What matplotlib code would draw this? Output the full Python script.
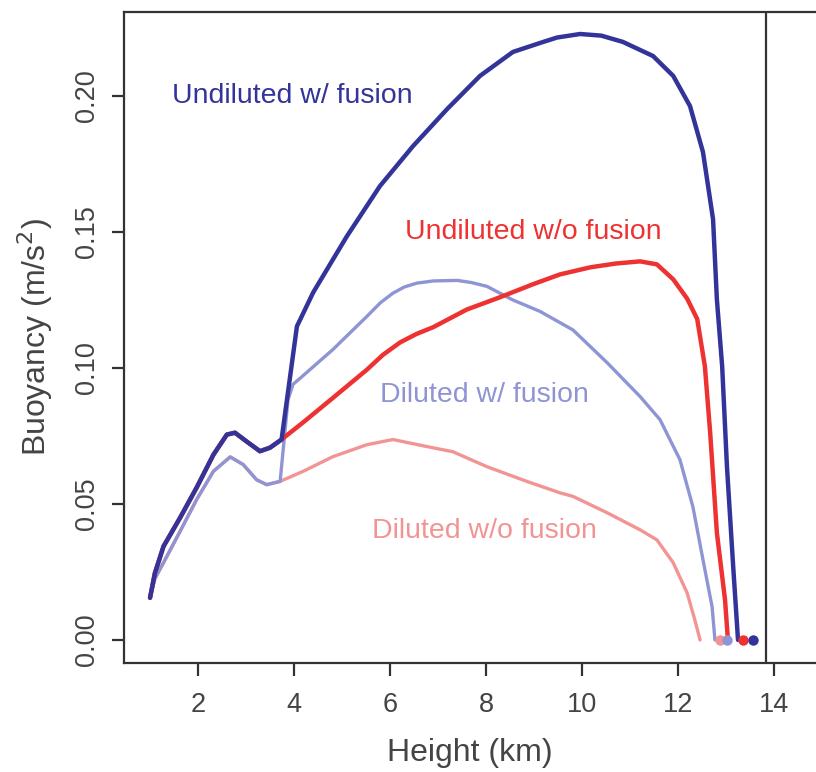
import matplotlib
matplotlib.use('Agg')
import matplotlib.pyplot as plt

plt.rcParams['font.family'] = ['Liberation Sans', 'DejaVu Sans']

# Height (km) / buoyancy (m/s^2)
undil_nofus_x = [1.0, 1.1, 1.28, 1.625, 1.97, 2.32, 2.6, 2.77, 3.01, 3.29, 3.5, 3.74,
                 4.19, 4.81, 5.52, 5.85, 6.21, 6.55, 6.9, 7.6, 8.29, 8.98, 9.54, 10.17,
                 10.7, 11.21, 11.56, 11.9, 12.19, 12.4, 12.56, 12.67, 12.81, 12.98, 13.04]
undil_nofus_y = [0.0155, 0.0245, 0.0344, 0.0449, 0.056, 0.0681, 0.0755, 0.0762, 0.073, 0.0694, 0.0707, 0.0737,
                 0.080, 0.089, 0.0994, 0.1048, 0.1094, 0.1125, 0.115, 0.1215, 0.126, 0.1308, 0.1344, 0.137,
                 0.1384, 0.1392, 0.1381, 0.1326, 0.1255, 0.118, 0.1006, 0.0762, 0.0394, 0.0147, 0.0]

undil_fus_x = [1.0, 1.1, 1.28, 1.625, 1.97, 2.32, 2.6, 2.77, 3.01, 3.29, 3.5, 3.74,
               4.06, 4.4, 5.1, 5.79, 6.48, 7.19, 7.875, 8.56, 9.125, 9.48, 9.96,
               10.4, 10.85, 11.48, 11.9, 12.25, 12.52, 12.73, 12.81, 12.92, 13.02, 13.15, 13.25]
undil_fus_y = [0.0155, 0.0245, 0.0344, 0.0449, 0.056, 0.0681, 0.0755, 0.0762, 0.073, 0.0694, 0.0707, 0.0737,
               0.1153, 0.1278, 0.1484, 0.1669, 0.1816, 0.1952, 0.2074, 0.2162, 0.2195, 0.2215, 0.2228,
               0.2222, 0.2199, 0.2147, 0.2074, 0.1963, 0.1794, 0.1547, 0.1252, 0.1006, 0.0637, 0.0269, 0.0]

dil_nofus_x = [1.0, 1.1, 1.28, 1.625, 1.97, 2.32, 2.67, 2.94, 3.22, 3.43, 3.71,
               4.19, 4.81, 5.52, 6.06, 6.77, 7.31, 8.02, 8.85, 9.54, 9.81, 10.52,
               11.21, 11.56, 11.9, 12.19, 12.35, 12.46]
dil_nofus_y = [0.0155, 0.0225, 0.0284, 0.0399, 0.0516, 0.062, 0.0673, 0.0645, 0.0589, 0.0571, 0.0583,
               0.062, 0.0674, 0.0718, 0.0737, 0.0711, 0.0692, 0.0637, 0.0583, 0.0541, 0.0528, 0.0468,
               0.0405, 0.0368, 0.0284, 0.0173, 0.0074, 0.0]

dil_fus_x = [1.0, 1.1, 1.28, 1.625, 1.97, 2.32, 2.67, 2.94, 3.22, 3.43, 3.71,
             3.875, 3.98, 4.125, 4.81, 5.52, 5.8, 6.06, 6.3, 6.56, 6.9, 7.40, 7.7, 8.02, 8.56, 9.125, 9.81,
             10.52, 11.21, 11.625, 12.04, 12.31, 12.52, 12.71, 12.77]
dil_fus_y = [0.0155, 0.0225, 0.0284, 0.0399, 0.0516, 0.062, 0.0673, 0.0645, 0.0589, 0.0571, 0.0583,
             0.0884, 0.094, 0.0962, 0.1068, 0.119, 0.1240, 0.1275, 0.1298, 0.1312, 0.1320, 0.1322, 0.1314, 0.130,
             0.125, 0.1208, 0.114, 0.102, 0.0895, 0.081, 0.0663, 0.049, 0.0295, 0.0122, 0.0]

# cloud-top markers
top_x = [12.875, 13.02, 13.35, 13.56]
top_y = [0.0, 0.0, 0.0, 0.0]

dark_blue = '#33349a'
red = '#ee3232'
light_blue = '#8e94d4'
pink = '#f39494'
top_colors = [pink, light_blue, red, dark_blue]

fig = plt.figure(figsize=(8.16, 7.72), dpi=100)
ax = fig.add_axes([0.152, 0.1412, 0.848, 0.8433])

ax.plot(dil_nofus_x, dil_nofus_y, color=pink, lw=2.4, solid_capstyle='round', solid_joinstyle='round')
ax.plot(dil_fus_x, dil_fus_y, color=light_blue, lw=2.4, solid_capstyle='round', solid_joinstyle='round')
ax.plot(undil_nofus_x, undil_nofus_y, color=red, lw=3.2, solid_capstyle='round', solid_joinstyle='round')
ax.plot(undil_fus_x, undil_fus_y, color=dark_blue, lw=3.2, solid_capstyle='round', solid_joinstyle='round')
for x, y, c in zip(top_x, top_y, top_colors):
    ax.plot(x, y, 'o', color=c, ms=7.5, mec='none')

ax.axvline(13.83, color='#333333', lw=1.6)

ax.text(1.46, 0.200, 'Undiluted w/ fusion', color=dark_blue, fontsize=20.5, va='center')
ax.text(6.31, 0.150, 'Undiluted w/o fusion', color=red, fontsize=20.5, va='center')
ax.text(5.79, 0.0902, 'Diluted w/ fusion', color=light_blue, fontsize=20.5, va='center')
ax.text(5.625, 0.0401, 'Diluted w/o fusion', color=pink, fontsize=20.5, va='center')

ax.set_xlim(0.458, 14.875)
ax.set_ylim(-0.00847, 0.2309)
ax.set_xticks([2, 4, 6, 8, 10, 12, 14])
ax.set_yticks([0.0, 0.05, 0.10, 0.15, 0.20])
ax.set_yticklabels(['0.00', '0.05', '0.10', '0.15', '0.20'], rotation=90, va='center')

ax.spines['right'].set_visible(False)
for s in ['left', 'bottom', 'top']:
    ax.spines[s].set_linewidth(1.6)
    ax.spines[s].set_color('#333333')
ax.tick_params(axis='both', direction='out', length=9, width=1.6, color='#333333',
               labelsize=19.5, labelcolor='#444444')
ax.tick_params(axis='x', pad=12)
ax.tick_params(axis='y', pad=8)

ax.set_xlabel('Height (km)', fontsize=23, color='#444444', labelpad=14)
ax.set_ylabel('Buoyancy (m/s$^2$)', fontsize=23, color='#444444', labelpad=14)

fig.savefig('out.png', dpi=100)
